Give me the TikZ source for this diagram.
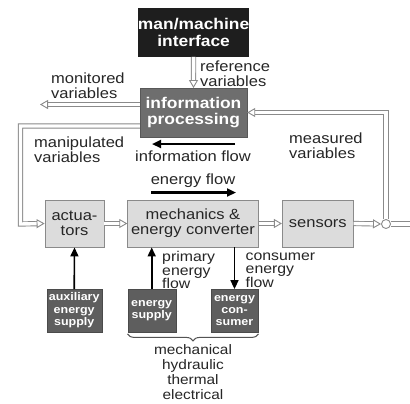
\documentclass[tikz,border=0pt]{standalone}
\usepackage{fontspec}
\setmainfont{Liberation Sans}[FakeStretch=1.12]
\usetikzlibrary{arrows.meta,decorations.pathreplacing,calc}
\definecolor{lin}{HTML}{8A8A8A}
\definecolor{boxlight}{HTML}{DCDCDC}
\definecolor{boxdark}{HTML}{5E5E5E}
\definecolor{boxinfo}{HTML}{6E6E6E}
\definecolor{boxblack}{HTML}{1E1E1E}
\definecolor{txtc}{HTML}{262626}
\begin{document}
\begin{tikzpicture}[x=1bp,y=-1bp,
  bodyf/.style={font={\fontsize{14.8}{15}\selectfont}},
  dbl/.style={draw=lin, line width=0.9bp, double=white, double distance=3.4bp},
  otip/.style={-{Triangle[open,length=8bp,width=9bp]}},
  blk/.style={draw=black, line width=1.6bp, -{Triangle[length=9bp,width=8bp]}},
  lbox/.style={draw=lin, fill=boxlight, line width=0.8bp, inner sep=0pt, align=center, text=txtc, bodyf},
  bigbox/.style={inner sep=0pt, align=center, text=white, font={\fontsize{15.6}{17}\selectfont\bfseries}},
  smbox/.style={fill=boxdark, draw=boxdark!80!black, inner sep=0pt, align=center, text=white,
     font={\fontsize{11.2}{12.5}\selectfont\bfseries}, minimum height=42.4bp},
  txt/.style={inner sep=0pt, align=left, text=txtc, bodyf},
  ctxt/.style={inner sep=0pt, align=center, text=txtc, font={\fontsize{13.8}{15}\selectfont}}
]
\clip (0,0) rectangle (410,404);
\fill[white] (0,0) rectangle (410,404);

% boxes
\node[bigbox, fill=boxblack, minimum width=107bp, minimum height=48.4bp] (mmi) at (193.6,32.5) {man/machine\\interface};
\node[bigbox, fill=boxinfo, draw=boxinfo!80!black, minimum width=107bp, minimum height=48.5bp] (info) at (193.5,112.5) {information\\processing};
\node[lbox, minimum width=59bp, minimum height=47bp] (act) at (74.5,223.5) {actua-\\tors};
\node[lbox, minimum width=130.6bp, minimum height=47bp] (mech) at (193,223.5) {mechanics \&\\energy converter};
\node[lbox, minimum width=71bp, minimum height=47bp] (sens) at (317.8,223.5) {sensors};
\node[smbox, minimum width=55bp] (aux) at (74.2,310.5) {auxiliary\\energy\\supply};
\node[smbox, minimum width=48bp] (esup) at (151.7,310.5) {energy\\supply};
\node[smbox, minimum width=47.6bp] (econ) at (234.5,310.5) {energy\\con-\\sumer};
\node[circle, draw=lin, fill=white, line width=0.9bp, minimum size=9bp, inner sep=0pt] (j) at (386,224) {};

% labels
\node[txt, anchor=west] (ref) at (200,74) {reference\\variables};
\node[txt, anchor=west] (mon) at (51,85.5) {monitored\\variables};
\node[txt, anchor=west] (man) at (34,149.7) {manipulated\\variables};
\node[txt] (iflow) at (193,156) {information flow};
\node[txt, anchor=west] (meas) at (289,145.5) {measured\\variables};
\node[txt] (eflow) at (193,181) {energy flow};
\node[txt, anchor=west, font={\fontsize{14.2}{13.5}\selectfont}] (pef) at (162,270) {primary\\energy\\flow};
\node[txt, anchor=west, font={\fontsize{14.2}{13.5}\selectfont}] (cef) at (245.5,270) {consumer\\energy\\flow};
\node[ctxt] (kinds) at (193,372) {mechanical\\hydraulic\\thermal\\electrical};

% coordinates
\coordinate (monend) at (40,104.5);
\coordinate (manc1) at (20.5,126);
\coordinate (manc2) at (20.5,224);
\coordinate (outend) at (418,224);
\coordinate (ifs) at (235,144);
\coordinate (ife) at (152,144);
\coordinate (efs) at (151,192.5);
\coordinate (efe) at (236,192.5);

% double connectors
\draw[dbl, otip] (mmi.south) -- (info.north);
\draw[dbl, otip] (info.west |- monend) -- (monend);
\draw[dbl, otip] (info.west |- manc1) -- (manc1) -- (manc2) -- (act.west);
\draw[dbl, otip] (act.east) -- (mech.west);
\draw[dbl, otip] (mech.east) -- (sens.west);
\draw[dbl, otip] (sens.east) -- (j.west);
\draw[dbl, otip] (j.north) |- (info.east);
\draw[dbl, otip] (j.east) -- (outend);

% black arrows
\draw[blk, line width=2.2bp] (ifs) -- (ife);
\draw[blk, line width=2.2bp] (efs) -- (efe);
\draw[blk] (aux.north) -- (act.south);
\draw[blk] (esup.north) -- (esup.north |- mech.south);
\draw[blk] (econ.north |- mech.south) -- (econ.north);

% brace
\draw[lin!60!black, line width=1bp, decorate, decoration={brace, mirror, amplitude=7bp}]
  ($(esup.south west)+(0,2)$) -- ($(econ.south east)+(0,2)$);
\end{tikzpicture}
\end{document}
